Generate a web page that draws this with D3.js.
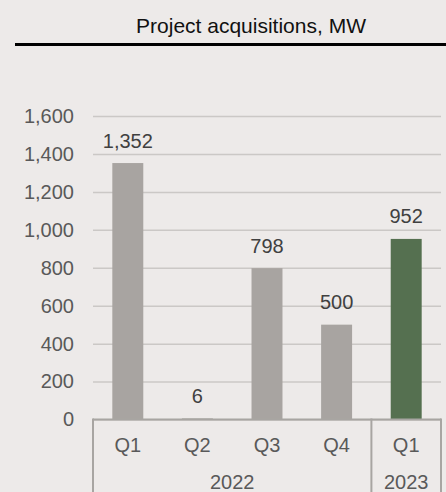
<!DOCTYPE html>
<html>
<head>
<meta charset="utf-8">
<script src="https://cdn.jsdelivr.net/npm/d3@7"></script>
<style>
  html, body { margin: 0; padding: 0; background: #edeae9; }
  svg { display: block; }
</style>
</head>
<body>
<div class="main"></div>
<script>
const width = 446;
const height = 492;

// data
const quarters = ['Q1', 'Q2', 'Q3', 'Q4', 'Q1'];
const years = ['2022', '2022', '2022', '2022', '2023'];
const values = [1352, 6, 798, 500, 952];
const yTicks = [0, 200, 400, 600, 800, 1000, 1200, 1400, 1600];
const title = 'Project acquisitions, MW';

const data = quarters.map((q, i) => ({key: i, quarter: q, year: years[i], value: values[i]}));

const svg = d3.select('.main')
  .append('svg')
  .attr('width', width)
  .attr('height', height)
  .attr('style', 'font-family: "Liberation Sans", Arial, sans-serif; background: #edeae9');

const y = d3.scaleLinear()
  .domain([0, 1600])
  .range([419.5, 116]);

const x = d3.scaleBand()
  .domain(data.map(d => d.key))
  .range([93, 441])
  .paddingInner(0.555)
  .paddingOuter(0.2775);

// title
svg.append('text')
  .attr('x', 251)
  .attr('y', 33)
  .attr('text-anchor', 'middle')
  .style('font-size', '21px')
  .style('fill', '#111')
  .text(title);

svg.append('line')
  .attr('x1', 15).attr('x2', width)
  .attr('y1', 44.5).attr('y2', 44.5)
  .attr('stroke', '#000')
  .attr('stroke-width', 3);

// gridlines + y labels
const yAxis = d3.axisLeft(y)
  .tickValues(yTicks)
  .tickSize(-(441 - 93))
  .tickPadding(19)
  .tickFormat(d3.format(','));

svg.append('g')
  .attr('transform', 'translate(93,0)')
  .call(yAxis)
  .call(g => g.select('.domain').remove())
  .call(g => g.selectAll('.tick line')
    .attr('stroke', '#cbc8c6')
    .attr('stroke-width', 1.5))
  .call(g => g.selectAll('.tick text')
    .attr('fill', '#595959')
    .style('font-size', '20px')
    .style('font-family', '"Liberation Sans", Arial, sans-serif'));

// bars
svg.append('g')
  .selectAll('rect')
  .data(data)
  .enter()
  .append('rect')
  .attr('x', d => x(d.key))
  .attr('width', x.bandwidth())
  .attr('y', d => y(d.value))
  .attr('height', d => y(0) - y(d.value))
  .style('fill', d => d.year === '2023' ? '#557050' : '#a8a4a1');

// value labels
svg.append('g')
  .attr('text-anchor', 'middle')
  .selectAll('text')
  .data(data)
  .enter()
  .append('text')
  .attr('x', d => x(d.key) + x.bandwidth() / 2)
  .attr('y', d => y(d.value) - 15.5)
  .style('font-size', '20px')
  .style('fill', '#404040')
  .text(d => d3.format(',')(d.value));

// category axis box
const axisColor = '#a8a5a2';
const base = y(0);
svg.append('line')
  .attr('x1', 93).attr('x2', 441)
  .attr('y1', base).attr('y2', base)
  .attr('stroke', axisColor).attr('stroke-width', 2);

// group separators
const groups = Array.from(d3.group(data, d => d.year), ([year, rows]) => ({
  year,
  x0: x(rows[0].key) - x.step() * x.paddingInner() / 2,
  x1: x(rows[rows.length - 1].key) + x.bandwidth() + x.step() * x.paddingInner() / 2
}));
groups[0].x0 = 93;
groups[groups.length - 1].x1 = 441;

const seps = [groups[0].x0].concat(groups.map(g => g.x1));
svg.append('g')
  .selectAll('line')
  .data(seps)
  .enter()
  .append('line')
  .attr('x1', d => d).attr('x2', d => d)
  .attr('y1', base - 1).attr('y2', height)
  .attr('stroke', axisColor).attr('stroke-width', 2);

// quarter labels
svg.append('g')
  .attr('text-anchor', 'middle')
  .selectAll('text')
  .data(data)
  .enter()
  .append('text')
  .attr('x', d => x(d.key) + x.bandwidth() / 2)
  .attr('y', 451.5)
  .style('font-size', '20px')
  .style('fill', '#595959')
  .text(d => d.quarter);

// year labels (cut by the bottom edge in the original as well)
svg.append('g')
  .attr('text-anchor', 'middle')
  .selectAll('text')
  .data(groups)
  .enter()
  .append('text')
  .attr('x', d => (d.x0 + d.x1) / 2)
  .attr('y', 489)
  .style('font-size', '20px')
  .style('fill', '#595959')
  .text(d => d.year);
</script>
</body>
</html>
